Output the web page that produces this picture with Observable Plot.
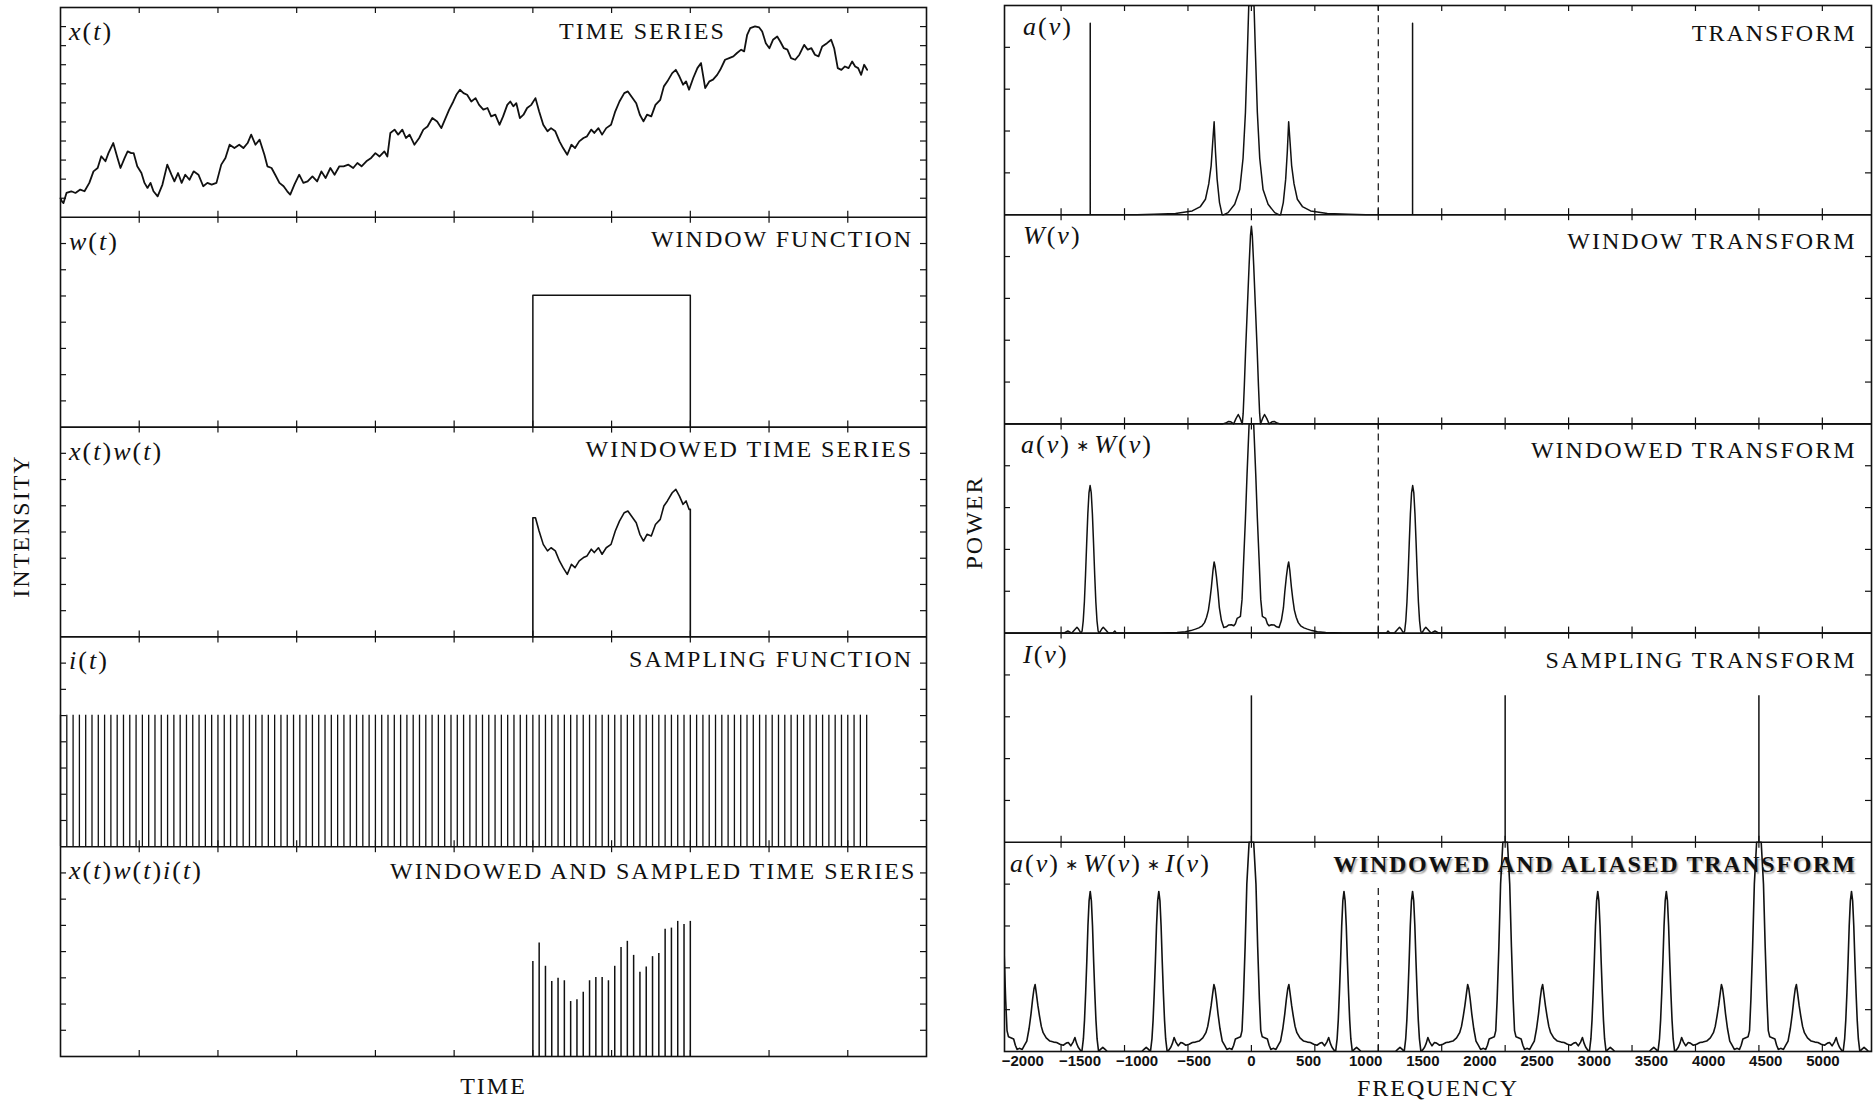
<!DOCTYPE html>
<html><head><meta charset="utf-8">
<script src="https://cdn.jsdelivr.net/npm/d3@7"></script>
<script src="https://cdn.jsdelivr.net/npm/@observablehq/plot@0.6"></script>
<style>
html,body{margin:0;padding:0;background:#fff;}
#root{position:relative;width:1874px;height:1104px;overflow:hidden;background:#fff;}
.math{position:absolute;font-family:"Liberation Serif",serif;font-size:26px;letter-spacing:2px;color:#111;line-height:1;transform:translateY(-50%);white-space:nowrap;}
.math .ast{font-family:"DejaVu Sans",sans-serif;font-size:16px;letter-spacing:0;padding:0 5px;position:relative;top:-2px;}
</style></head><body><div id="root"></div>
<script>
// ---------------- DATA ----------------
// time series x(t): [time (tick units), intensity (panel heights)]
const timeSeries = [
[0,0.09],[0.02,0.075],[0.038,0.068],[0.076,0.116],[0.137,0.124],[0.19,0.116],[0.251,0.132],[0.305,0.124],[0.366,0.164],[0.419,0.219],
[0.472,0.235],[0.518,0.291],[0.571,0.267],[0.609,0.306],[0.67,0.354],[0.724,0.283],[0.762,0.235],[0.815,0.283],[0.853,0.314],[0.899,0.306],
[0.929,0.306],[0.975,0.243],[1.028,0.211],[1.067,0.164],[1.105,0.14],[1.143,0.164],[1.181,0.124],[1.234,0.1],[1.295,0.156],[1.356,0.251],
[1.409,0.203],[1.447,0.171],[1.493,0.211],[1.539,0.164],[1.585,0.203],[1.638,0.179],[1.691,0.219],[1.752,0.203],[1.813,0.148],[1.866,0.164],
[1.92,0.156],[1.981,0.164],[2.042,0.251],[2.095,0.283],[2.148,0.346],[2.209,0.33],[2.27,0.346],[2.323,0.33],[2.377,0.354],[2.422,0.394],
[2.476,0.346],[2.529,0.37],[2.59,0.298],[2.628,0.243],[2.681,0.235],[2.727,0.203],[2.781,0.164],[2.834,0.148],[2.88,0.124],[2.918,0.108],
[2.971,0.156],[3.032,0.203],[3.085,0.164],[3.139,0.171],[3.2,0.195],[3.26,0.171],[3.314,0.219],[3.367,0.187],[3.428,0.235],[3.481,0.203],
[3.542,0.243],[3.596,0.243],[3.657,0.251],[3.718,0.235],[3.771,0.259],[3.824,0.243],[3.885,0.267],[3.946,0.283],[4.0,0.306],[4.053,0.29],
[4.114,0.314],[4.152,0.29],[4.19,0.402],[4.243,0.418],[4.289,0.394],[4.342,0.418],[4.388,0.378],[4.434,0.394],[4.495,0.346],[4.556,0.378],
[4.609,0.418],[4.662,0.433],[4.723,0.473],[4.784,0.457],[4.837,0.425],[4.891,0.473],[4.937,0.513],[4.99,0.552],[5.028,0.584],[5.074,0.608],
[5.119,0.592],[5.165,0.584],[5.218,0.552],[5.272,0.568],[5.317,0.536],[5.371,0.513],[5.424,0.521],[5.47,0.481],[5.523,0.489],[5.576,0.441],
[5.622,0.481],[5.675,0.536],[5.713,0.552],[5.752,0.529],[5.79,0.544],[5.835,0.473],[5.881,0.489],[5.927,0.521],[5.98,0.536],[6.033,0.568],
[6.079,0.505],[6.132,0.441],[6.186,0.41],[6.231,0.425],[6.285,0.41],[6.338,0.362],[6.384,0.33],[6.437,0.298],[6.49,0.346],[6.536,0.33],
[6.589,0.362],[6.643,0.378],[6.688,0.386],[6.742,0.418],[6.78,0.402],[6.833,0.425],[6.879,0.394],[6.932,0.425],[6.993,0.441],[7.047,0.505],
[7.1,0.552],[7.161,0.592],[7.207,0.6],[7.252,0.576],[7.313,0.544],[7.359,0.489],[7.405,0.457],[7.45,0.489],[7.504,0.481],[7.557,0.536],
[7.618,0.56],[7.664,0.624],[7.709,0.648],[7.77,0.687],[7.816,0.703],[7.862,0.671],[7.908,0.632],[7.946,0.648],[7.984,0.608],[8.037,0.664],
[8.09,0.711],[8.136,0.735],[8.189,0.616],[8.243,0.648],[8.288,0.656],[8.341,0.679],[8.38,0.703],[8.441,0.751],[8.494,0.759],[8.547,0.767],
[8.593,0.783],[8.646,0.799],[8.684,0.791],[8.722,0.87],[8.761,0.902],[8.822,0.91],[8.875,0.905],[8.913,0.886],[8.959,0.83],[9.005,0.806],
[9.05,0.846],[9.104,0.862],[9.142,0.838],[9.188,0.806],[9.233,0.799],[9.279,0.759],[9.332,0.751],[9.385,0.775],[9.446,0.822],[9.492,0.799],
[9.538,0.806],[9.583,0.775],[9.629,0.767],[9.675,0.814],[9.736,0.83],[9.789,0.846],[9.827,0.806],[9.873,0.711],[9.919,0.703],[9.964,0.719],
[10.01,0.711],[10.056,0.743],[10.094,0.719],[10.132,0.711],[10.17,0.679],[10.208,0.727],[10.246,0.703]
];
const windowStart = 6, windowEnd = 8, windowHeight = 0.629;
const sampleInterval = 0.08, sampleCount = 129, sampleHeight = 0.627;
// heights of the sampled, windowed series (26 samples inside the window)
const sampledValues = [0.453,0.541,0.43,0.358,0.373,0.361,0.262,0.271,0.306,0.361,0.377,0.377,0.361,
                       0.43,0.52,0.549,0.482,0.401,0.427,0.476,0.491,0.606,0.612,0.644,0.629,0.644];

// power spectra, one half (frequency >= 0), symmetric about 0: [frequency, power (panel heights)]
const transformHalf = [[0,2.8],[15,1.5],[23,1.0],[35,0.78],[52,0.49],[73,0.27],[102,0.12],[146,0.05],[204,0.01],[240,0],[256,0],
  [279,0.058],[300,0.17],[314,0.3],[326,0.444],[338,0.35],[352,0.235],[373,0.147],[402,0.074],[446,0.039],[518,0.018],[664,0.006],
  [850,0.002],[1000,0],[1410,0],[1410,0.915],[1410,0],[5600,0]];
const windowTransformHalf = [[0,0.945],[8,0.9],[20,0.76],[35,0.56],[50,0.36],[62,0.18],[72,0.05],[80,0],[97,0.025],[115,0.045],
  [135,0.025],[155,0],[180,0.01],[200,0.012],[225,0.004],[250,0],[5600,0]];
const windowedHalf = [[0,2.0],[20,1.3],[38,0.76],[52,0.55],[67,0.357],[82,0.16],[96,0.08],[110,0.075],[125,0.07],[140,0.045],
  [154,0.035],[175,0.04],[198,0.039],[220,0.03],[242,0.027],[262,0.06],[280,0.12],[292,0.196],[306,0.27],[318,0.32],[326,0.34],
  [336,0.3],[350,0.22],[362,0.164],[376,0.11],[392,0.076],[410,0.05],[431,0.035],[460,0.025],[490,0.019],[530,0.012],[577,0.006],
  [650,0.003],[800,0.001],[1000,0],[1181,0],[1195,0.01],[1211,0],[1251,0],[1276,0.016],[1296,0.028],[1311,0.018],[1331,0],
  [1341,0.01],[1351,0.06],[1361,0.15],[1371,0.28],[1381,0.43],[1391,0.57],[1401,0.67],[1411,0.705],[1421,0.67],[1431,0.57],
  [1441,0.43],[1451,0.28],[1461,0.15],[1471,0.06],[1481,0.01],[1491,0],[1511,0.018],[1526,0.028],[1546,0.016],[1571,0],
  [1606,0.01],[1641,0],[5600,0]];
// aliased spectrum: half of one period (0 .. Nyquist); periodic with the sampling frequency
const aliasedHalf = [[0,2.0],[20,1.4],[40,0.8],[55,0.5],[70,0.25],[82,0.1],[95,0.07],[120,0.065],[140,0.06],[155,0.03],[170,0.01],
  [190,0.015],[215,0.01],[235,0.03],[255,0.05],[275,0.11],[292,0.18],[306,0.25],[318,0.3],[328,0.32],[338,0.28],[352,0.22],
  [366,0.17],[382,0.12],[398,0.09],[425,0.065],[457,0.05],[490,0.045],[516,0.043],[545,0.035],[574,0.03],[600,0.04],[618,0.043],
  [640,0.027],[660,0.045],[676,0.067],[690,0.04],[705,0.02],[725,0.005],[737,0],[750,0.06],[760,0.15],[770,0.28],[780,0.43],
  [790,0.6],[800,0.72],[810,0.765],[820,0.72],[830,0.6],[840,0.43],[850,0.28],[860,0.15],[870,0.06],[883,0],[900,0.01],
  [920,0.02],[940,0.01],[960,0],[1110,0]];
const samplingFreq = 2220, nyquist = 1110;
const samplingSpikes = [0, 2220, 4440], samplingSpikeHeight = 0.70;
const freqTickLabels = [-2000,-1500,-1000,-500,0,500,1000,1500,2000,2500,3000,3500,4000,4500,5000];
const freqTickStep = 555;

const leftTitles = ["TIME SERIES","WINDOW FUNCTION","WINDOWED TIME SERIES","SAMPLING FUNCTION","WINDOWED AND SAMPLED TIME SERIES"];
const rightTitles = ["TRANSFORM","WINDOW TRANSFORM","WINDOWED TRANSFORM","SAMPLING TRANSFORM","WINDOWED AND ALIASED TRANSFORM"];
const AST = '<span class="ast">∗</span>';
const leftMath = ["<i>x</i>(<i>t</i>)","<i>w</i>(<i>t</i>)","<i>x</i>(<i>t</i>)<i>w</i>(<i>t</i>)","<i>i</i>(<i>t</i>)","<i>x</i>(<i>t</i>)<i>w</i>(<i>t</i>)<i>i</i>(<i>t</i>)"];
const rightMath = ["<i>a</i>(<i>ν</i>)","<i>W</i>(<i>ν</i>)",`<i>a</i>(<i>ν</i>)${AST}<i>W</i>(<i>ν</i>)`,"<i>I</i>(<i>ν</i>)",`<i>a</i>(<i>ν</i>)${AST}<i>W</i>(<i>ν</i>)${AST}<i>I</i>(<i>ν</i>)`];

// ---------------- LAYOUT ----------------
const ink = "#111";
const serif = "Liberation Serif";
const LEFT = {svgLeft: 0, width: 940, height: 1104, marginLeft: 60, marginRight: 14, marginTop: 7, marginBottom: 48};
const RIGHT = {svgLeft: 940, width: 934, height: 1104, marginLeft: 64, marginRight: 3, marginTop: 5, marginBottom: 53};
const tDomain = [0, 11], fDomain = [-2160, 5425];
const leftTitleEnd = [8.45, 10.83, 10.83, 10.83, 10.87];
const leftTitleDy = [15, 14, 14, 14, 16];
const rightTitleDy = [19, 18, 18, 19, 14];

const root = document.getElementById("root");
const base = p => 4 - p; // panel p (0 = top) occupies y in [4-p, 5-p]
const clampV = v => Math.min(v, 1);

// ---------------- LEFT COLUMN ----------------
const leftPanelH = (LEFT.height - LEFT.marginTop - LEFT.marginBottom) / 5;
const leftPxX = (LEFT.width - LEFT.marginLeft - LEFT.marginRight) / 11;
const tlY = 6 / leftPanelH, tlXL = 6 / leftPxX;

const seriesPts = timeSeries.map(([t, v]) => ({t, y: base(0) + v}));
const boxPts = [[windowStart,0],[windowStart,windowHeight],[windowEnd,windowHeight],[windowEnd,0]].map(([t,v]) => ({t, y: base(1) + v}));
const inWin = timeSeries.filter(([t]) => t >= windowStart && t <= windowEnd);
const windowedPts = [[windowStart,0],[windowStart,inWin[0][1]],...inWin,[windowEnd,inWin[inWin.length-1][1]],[windowEnd,0]]
  .map(([t,v]) => ({t, y: base(2) + v}));
const sampleTimes = d3.range(sampleCount).map(k => +(k * sampleInterval).toFixed(4));
const sampledTimes = sampleTimes.filter(t => t >= windowStart - 1e-9 && t <= windowEnd + 1e-9);
const sampled = sampledTimes.map((t, i) => ({t, v: sampledValues[i]})).filter(d => d.v != null);

const leftXTickSegs = d3.range(0, 6).flatMap(b => d3.range(1, 11).map(t => ({x: t, y1: Math.max(0, b - tlY), y2: Math.min(5, b + tlY)})));
const leftYTicks = d3.range(5).flatMap(p => { const n = p === 0 ? 11 : 8; return d3.range(1, n).map(j => base(p) + j / n); });

const leftPlot = Plot.plot({
  width: LEFT.width, height: LEFT.height,
  marginLeft: LEFT.marginLeft, marginRight: LEFT.marginRight, marginTop: LEFT.marginTop, marginBottom: LEFT.marginBottom,
  x: {domain: tDomain, axis: null},
  y: {domain: [0, 5], axis: null},
  style: {fontFamily: serif, background: "white", color: ink, overflow: "visible"},
  marks: [
    Plot.ruleX(leftXTickSegs, {x: "x", y1: "y1", y2: "y2", stroke: ink, strokeWidth: 1.2}),
    Plot.ruleY(leftYTicks, {y: d => d, x1: 0, x2: tlXL, stroke: ink, strokeWidth: 1.2}),
    Plot.ruleY(leftYTicks, {y: d => d, x1: 11 - tlXL, x2: 11, stroke: ink, strokeWidth: 1.2}),
    Plot.line(seriesPts, {x: "t", y: "y", stroke: ink, strokeWidth: 1.8}),
    Plot.line(boxPts, {x: "t", y: "y", stroke: ink, strokeWidth: 1.5}),
    Plot.line(windowedPts, {x: "t", y: "y", stroke: ink, strokeWidth: 1.6}),
    Plot.ruleX(sampleTimes, {x: d => d, y1: base(3), y2: base(3) + sampleHeight, stroke: ink, strokeWidth: 1.3}),
    Plot.ruleX(sampled, {x: "t", y1: base(4), y2: d => base(4) + d.v, stroke: ink, strokeWidth: 1.5}),
    Plot.ruleY([1, 2, 3, 4], {stroke: ink, strokeWidth: 1.6}),
    Plot.frame({stroke: ink, strokeWidth: 1.6}),
    Plot.text(leftTitles.map((title, p) => ({title, p})), {
      x: d => leftTitleEnd[d.p], y: d => 5 - d.p, text: "title", textAnchor: "end",
      fontSize: 24, fill: ink
    }),
    Plot.text(["INTENSITY"], {frameAnchor: "left", textAnchor: "middle", rotate: -90, dx: -39, dy: -6, fontSize: 24, fill: ink}),
    Plot.text(["TIME"], {frameAnchor: "bottom", dy: 37, fontSize: 24, fill: ink})
  ]
});

// ---------------- RIGHT COLUMN ----------------
const mirror = half => [...half.slice(1).map(([f, v]) => [-f, v]).reverse(), ...half];
const aliasedPeriod = mirror(aliasedHalf);
const aliasedFull = d3.range(-1, 4).flatMap(k => aliasedPeriod.map(([f, v]) => [f + k * samplingFreq, v]));
const toPts = (arr, p) => arr.map(([f, v]) => ({f, y: base(p) + clampV(v)}));

const rightPanelH = (RIGHT.height - RIGHT.marginTop - RIGHT.marginBottom) / 5;
const rightPxPerF = (RIGHT.width - RIGHT.marginLeft - RIGHT.marginRight) / (fDomain[1] - fDomain[0]);
const tlYR = 6 / rightPanelH, tlXR = 6 / rightPxPerF;
const rightXTicks = d3.range(-3, 10).map(k => k * freqTickStep).filter(f => f > fDomain[0] && f < fDomain[1]);
const rightXTickSegs = d3.range(0, 6).flatMap(b => rightXTicks.map(f => ({x: f, y1: Math.max(0, b - tlYR), y2: Math.min(5, b + tlYR)})));
const rightYTicks = d3.range(5).flatMap(p => d3.range(1, 5).map(j => base(p) + j / 5));
const dashed = [{y1: base(0), y2: base(0) + 1}, {y1: base(2), y2: base(2) + 1}, {y1: base(4), y2: base(4) + 0.8}];

const rightPlot = Plot.plot({
  width: RIGHT.width, height: RIGHT.height,
  marginLeft: RIGHT.marginLeft, marginRight: RIGHT.marginRight, marginTop: RIGHT.marginTop, marginBottom: RIGHT.marginBottom,
  x: {domain: fDomain},
  y: {domain: [0, 5], axis: null},
  style: {fontFamily: serif, background: "white", color: ink, overflow: "visible"},
  marks: [
    Plot.ruleX(rightXTickSegs, {x: "x", y1: "y1", y2: "y2", stroke: ink, strokeWidth: 1.2}),
    Plot.ruleY(rightYTicks, {y: d => d, x1: fDomain[0], x2: fDomain[0] + tlXR, stroke: ink, strokeWidth: 1.2}),
    Plot.ruleY(rightYTicks, {y: d => d, x1: fDomain[1] - tlXR, x2: fDomain[1], stroke: ink, strokeWidth: 1.2}),
    Plot.ruleX(dashed, {x: () => nyquist, y1: "y1", y2: "y2", stroke: ink, strokeWidth: 1.2, strokeDasharray: "7,5"}),
    Plot.line(toPts(mirror(transformHalf), 0), {x: "f", y: "y", stroke: ink, strokeWidth: 1.5, clip: true}),
    Plot.line(toPts(mirror(windowTransformHalf), 1), {x: "f", y: "y", stroke: ink, strokeWidth: 1.5, clip: true}),
    Plot.line(toPts(mirror(windowedHalf), 2), {x: "f", y: "y", stroke: ink, strokeWidth: 1.5, clip: true}),
    Plot.ruleX(samplingSpikes, {x: d => d, y1: base(3), y2: base(3) + samplingSpikeHeight, stroke: ink, strokeWidth: 1.5}),
    Plot.line(toPts(aliasedFull, 4), {x: "f", y: "y", stroke: ink, strokeWidth: 1.6, clip: true}),
    Plot.ruleY([1, 2, 3, 4], {stroke: ink, strokeWidth: 1.6}),
    Plot.frame({stroke: ink, strokeWidth: 1.6}),
    Plot.axisX(freqTickLabels, {tickSize: 0, tickPadding: 4, label: null, fontSize: 15, fontWeight: "bold",
      fontFamily: "Liberation Sans", tickFormat: d => (d < 0 ? "−" : "") + Math.abs(d)}),
    Plot.text(rightTitles.map((title, p) => ({title, p})), {
      x: fDomain[1], y: d => 5 - d.p, text: "title", textAnchor: "end", dx: -15,
      fontSize: 24, fill: ink
    }),
    Plot.text(["POWER"], {frameAnchor: "left", textAnchor: "middle", rotate: -90, dx: -30, dy: -6, fontSize: 24, fill: ink}),
    Plot.text(["FREQUENCY"], {frameAnchor: "bottom", dy: 44, fontSize: 24, fill: ink})
  ]
});

// ---------------- ASSEMBLE ----------------
function finish(svg, left, titles, dys) {
  svg.style.position = "absolute";
  svg.style.left = left + "px";
  svg.style.top = "0px";
  d3.select(svg).selectAll("text").each(function () {
    const t = this.textContent;
    if (/^[−-]?\d+$/.test(t)) { this.setAttribute("letter-spacing", "0"); return; }
    this.setAttribute("letter-spacing", "2");
    const i = titles.indexOf(t);
    if (i >= 0) {
      this.setAttribute("dy", "0.35em");
      this.setAttribute("transform", (this.getAttribute("transform") || "") + ` translate(0,${dys[i]})`);
    }
    if (t === "WINDOWED AND ALIASED TRANSFORM") {
      this.setAttribute("letter-spacing", "1.7");
      this.setAttribute("font-weight", "bold");
      this.style.textShadow = "1.5px 1.5px 1.5px rgba(0,0,0,0.35)";
    }
  });
  root.appendChild(svg);
}
finish(leftPlot, LEFT.svgLeft, leftTitles, leftTitleDy);
finish(rightPlot, RIGHT.svgLeft, rightTitles, rightTitleDy);

function addMath(labels, x0, top0, panelH, dyc, xs) {
  labels.forEach((html, p) => {
    const d = document.createElement("div");
    d.className = "math";
    d.innerHTML = html;
    d.style.left = (xs && xs[p] != null ? xs[p] : x0) + "px";
    d.style.top = (top0 + p * panelH + dyc) + "px";
    root.appendChild(d);
  });
}
addMath(leftMath, 69, LEFT.marginTop, leftPanelH, 25);
addMath(rightMath, RIGHT.svgLeft + RIGHT.marginLeft + 19, RIGHT.marginTop, rightPanelH, 22, [null, null, 1021, null, 1010]);
</script></body></html>
